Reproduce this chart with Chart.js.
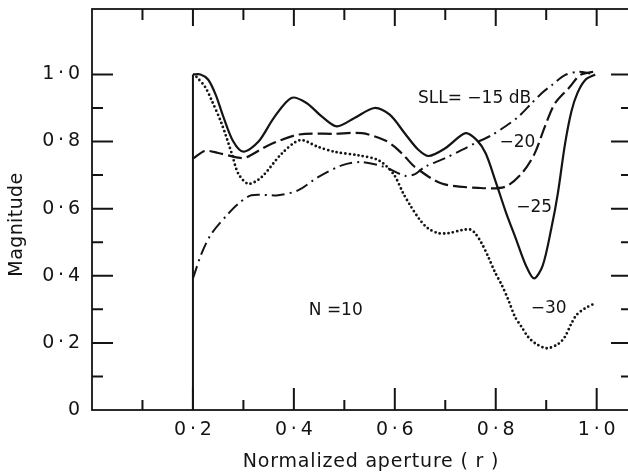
<!DOCTYPE html>
<html>
<head>
<meta charset="utf-8">
<script src="https://cdn.jsdelivr.net/npm/chart.js@4.4.1/dist/chart.umd.min.js"></script>
<style>
  html, body { margin: 0; padding: 0; background: #fff; overflow: hidden; }
  #wrap { width: 660px; height: 474px; }
</style>
</head>
<body>
<div id="wrap"><canvas id="chart" width="660" height="474"></canvas></div>
<script>
// ---- aperture distributions, N = 10 ----
// SLL = -15 dB (dash-dot)
const sll15X = [0.2, 0.217, 0.237, 0.27, 0.29, 0.316, 0.369, 0.409, 0.448, 0.495, 0.534, 0.58, 0.62, 0.64, 0.66, 0.699, 0.733, 0.759, 0.792, 0.818, 0.845, 0.871, 0.891, 0.911, 0.937, 0.964, 0.987];
const sll15Y = [0.392, 0.466, 0.526, 0.585, 0.615, 0.64, 0.64, 0.655, 0.694, 0.729, 0.739, 0.724, 0.698, 0.703, 0.725, 0.75, 0.775, 0.795, 0.819, 0.844, 0.874, 0.914, 0.944, 0.968, 0.998, 1.008, 1.003];

// SLL = -20 dB (dashed)
const sll20X = [0.2, 0.224, 0.25, 0.29, 0.305, 0.35, 0.41, 0.48, 0.535, 0.58, 0.6, 0.62, 0.64, 0.693, 0.765, 0.818, 0.851, 0.877, 0.897, 0.917, 0.947, 0.967, 0.993];
const sll20Y = [0.749, 0.772, 0.766, 0.752, 0.752, 0.789, 0.821, 0.823, 0.825, 0.804, 0.784, 0.755, 0.724, 0.675, 0.662, 0.665, 0.704, 0.764, 0.843, 0.913, 0.963, 0.998, 1.008];

// SLL = -25 dB (solid)
const sll25X = [0.2, 0.215, 0.23, 0.245, 0.26, 0.28, 0.30, 0.33, 0.36, 0.395, 0.425, 0.455, 0.485, 0.52, 0.56, 0.59, 0.62, 0.645, 0.667, 0.70, 0.74, 0.762, 0.78, 0.80, 0.82, 0.84, 0.86, 0.876, 0.893, 0.91, 0.923, 0.937, 0.95, 0.962, 0.977, 0.997];
const sll25Y = [1.0, 1.0, 0.985, 0.94, 0.875, 0.80, 0.77, 0.80, 0.87, 0.93, 0.915, 0.875, 0.845, 0.87, 0.90, 0.88, 0.824, 0.778, 0.757, 0.78, 0.825, 0.805, 0.765, 0.68, 0.59, 0.51, 0.43, 0.392, 0.43, 0.54, 0.645, 0.79, 0.89, 0.945, 0.983, 1.0];

// SLL = -30 dB (dotted)
const sll30X = [0.207, 0.224, 0.237, 0.257, 0.277, 0.29, 0.31, 0.336, 0.376, 0.412, 0.448, 0.482, 0.528, 0.568, 0.597, 0.617, 0.63, 0.65, 0.666, 0.686, 0.706, 0.733, 0.749, 0.759, 0.772, 0.785, 0.798, 0.812, 0.825, 0.838, 0.851, 0.864, 0.878, 0.901, 0.924, 0.937, 0.95, 0.96, 0.977, 0.997];
const sll30Y = [0.993, 0.963, 0.923, 0.853, 0.764, 0.704, 0.674, 0.694, 0.764, 0.804, 0.784, 0.769, 0.759, 0.744, 0.704, 0.645, 0.611, 0.566, 0.541, 0.527, 0.527, 0.536, 0.538, 0.527, 0.497, 0.457, 0.412, 0.372, 0.328, 0.278, 0.248, 0.218, 0.199, 0.184, 0.197, 0.218, 0.258, 0.283, 0.303, 0.318];

// inner edge of the aperture
const edgeX = [0.2, 0.2];
const edgeY = [0, 1.0];

// axes
const xTickValues = [0.2, 0.4, 0.6, 0.8, 1.0];
const xTickLabels = ['0·2', '0·4', '0·6', '0·8', '1·0'];
const yTickValues = [0, 0.2, 0.4, 0.6, 0.8, 1.0];
const yTickLabels = ['0', '0·2', '0·4', '0·6', '0·8', '1·0'];
const xTickMarks = [0.1, 0.2, 0.3, 0.4, 0.5, 0.6, 0.7, 0.8, 0.9, 1.0];
const yTickMarks = [0.1, 0.2, 0.3, 0.4, 0.5, 0.6, 0.7, 0.8, 0.9, 1.0];

// curve labels [text, r, magnitude]
const curveLabels = [
  ['SLL= −15 dB', 0.758, 0.927],
  ['−20', 0.843, 0.797],
  ['−25', 0.876, 0.604],
  ['−30', 0.905, 0.302],
  ['N =10', 0.483, 0.295]
];

const FONT = '"DejaVu Sans", "Liberation Sans", sans-serif';
const INK = '#141414';

const pts = (xs, ys) => xs.map((x, i) => ({ x, y: ys[i] }));
const spaced = (s) => s.replace('·', '\u2009·\u2009');

function curve(label, xs, ys, dash, width) {
  return {
    label,
    data: pts(xs, ys),
    borderColor: INK,
    borderWidth: width,
    borderDash: dash,
    borderCapStyle: dash.length && dash[0] === 0 ? 'round' : 'butt',
    borderJoinStyle: 'round',
    tension: 0.3,
    pointRadius: 0,
    fill: false
  };
}

// frame with inward ticks on all four sides
const framePlugin = {
  id: 'frame',
  afterDatasetsDraw(chart) {
    const { ctx, chartArea: a, scales: { x, y } } = chart;
    ctx.save();
    ctx.strokeStyle = INK;
    ctx.lineWidth = 1.8;
    ctx.strokeRect(a.left, a.top, a.right - a.left, a.bottom - a.top);
    ctx.lineWidth = 2;
    ctx.beginPath();
    xTickMarks.forEach(v => {
      const px = x.getPixelForValue(v);
      const major = Math.round(v * 10) % 2 === 0;
      ctx.moveTo(px, a.bottom); ctx.lineTo(px, a.bottom - (major ? 22 : 10));
      ctx.moveTo(px, a.top); ctx.lineTo(px, a.top + (major ? 17 : 11));
    });
    yTickMarks.forEach(v => {
      const py = y.getPixelForValue(v);
      const major = Math.round(v * 10) % 2 === 0;
      ctx.moveTo(a.left, py); ctx.lineTo(a.left + (major ? 21 : 11), py);
      ctx.moveTo(a.right, py); ctx.lineTo(a.right - (major ? 21 : 11), py);
    });
    ctx.stroke();
    ctx.restore();
  }
};

// curve labels and axis titles
const textPlugin = {
  id: 'texts',
  afterDraw(chart) {
    const { ctx, chartArea: a, scales: { x, y } } = chart;
    ctx.save();
    ctx.fillStyle = INK;
    ctx.textAlign = 'center';
    ctx.textBaseline = 'middle';
    ctx.font = '17px ' + FONT;
    curveLabels.forEach(([t, r, m]) => {
      ctx.fillText(t, x.getPixelForValue(r), y.getPixelForValue(m));
    });

    ctx.font = '19px ' + FONT;
    ctx.letterSpacing = '0.8px';
    ctx.fillText('Normalized aperture ( r )', (a.left + a.right) / 2 + 9, a.bottom + 52);

    ctx.letterSpacing = '0.4px';
    ctx.translate(a.left - 75, (a.top + a.bottom) / 2 + 15);
    ctx.rotate(-Math.PI / 2);
    ctx.fillText('Magnitude', 0, 0);
    ctx.restore();
  }
};

new Chart(document.getElementById('chart'), {
  type: 'line',
  data: {
    datasets: [
      curve('-15 dB', sll15X, sll15Y, [13, 5, 2, 5], 2),
      curve('-20 dB', sll20X, sll20Y, [14, 5], 2.2),
      curve('-25 dB', sll25X, sll25Y, [], 2.2),
      curve('-30 dB', sll30X, sll30Y, [0, 4.4], 2.8),
      Object.assign(curve('edge', edgeX, edgeY, [], 2), { tension: 0 })
    ]
  },
  options: {
    responsive: false,
    animation: false,
    layout: { padding: { top: 9, right: 28, left: 0, bottom: 0 } },
    plugins: { legend: { display: false }, tooltip: { enabled: false } },
    scales: {
      x: {
        type: 'linear',
        min: 0,
        max: 1.07,
        grid: { display: false, drawTicks: false },
        border: { display: false },
        afterBuildTicks: (s) => { s.ticks = xTickValues.map(v => ({ value: v })); },
        afterFit: (s) => { s.height = 64; s.paddingLeft = 0; s.paddingRight = 0; },
        ticks: {
          padding: 9,
          maxRotation: 0,
          autoSkip: false,
          color: INK,
          font: { family: FONT, size: 19 },
          callback: (v, i) => spaced(xTickLabels[i])
        }
      },
      y: {
        type: 'linear',
        min: 0,
        max: 1.195,
        grid: { display: false, drawTicks: false },
        border: { display: false },
        afterBuildTicks: (s) => { s.ticks = yTickValues.map(v => ({ value: v })); },
        afterFit: (s) => { s.width = 92; s.paddingTop = 0; s.paddingBottom = 0; },
        ticks: {
          padding: 12,
          autoSkip: false,
          color: INK,
          font: { family: FONT, size: 19 },
          callback: (v, i) => spaced(yTickLabels[i])
        }
      }
    }
  },
  plugins: [framePlugin, textPlugin]
});
</script>
</body>
</html>
